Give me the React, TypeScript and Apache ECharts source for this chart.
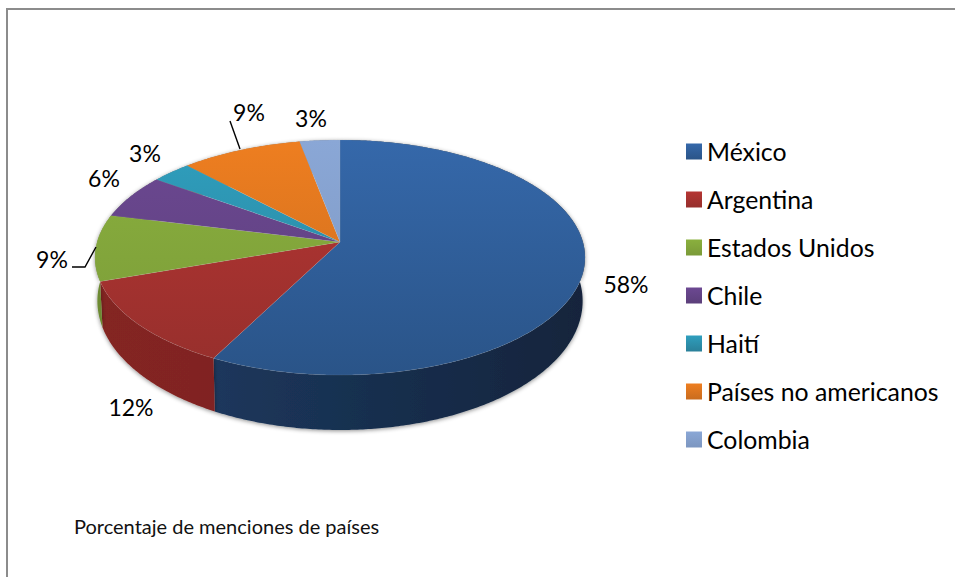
import React, { useEffect, useRef } from "react";
import * as echarts from "echarts";

const CATEGORIES = ["México", "Argentina", "Estados Unidos", "Chile", "Haití", "Países no americanos", "Colombia"];
const VALUES = [57.6, 12.1, 9.1, 6.1, 3.0, 9.1, 3.0];
const TOP_LIGHT = ["#3568aa", "#b53533", "#8ab03e", "#6c4892", "#2f9fbe", "#ee7e20", "#8aa7d6"];
const TOP_DARK = ["#2a5488", "#962f2c", "#7a9a38", "#5b3f7a", "#2a8099", "#c96c1e", "#7c96c0"];
const WALL_LEFT = ["#1f3d66", "#842523", "#6d8a32", "#4a3364", "#226a80", "#a85a18", "#667c9e"];
const WALL_RIGHT = ["#12243c", "#75201e", "#5f7a2c", "#4a3364", "#226a80", "#a85a18", "#667c9e"];
const LABEL_CENTERS: number[][] = [[626, 284], [131, 407], [52, 259], [104, 178], [145, 153], [249, 112], [311, 118]];
const LEADERS: (number[][] | null)[] = [
  null, null,
  [[72, 267], [85, 267], [96, 247]],
  null, null,
  [[230, 121], [240, 149]],
  null,
];
const CAPTION = "Porcentaje de menciones de países";

const FONT = "Lato, Carlito, 'Open Sans', sans-serif";
const TOTAL = VALUES.reduce((a, b) => a + b, 0);
const K = 0.132;

function project(angle: number, lower: boolean): number[] {
  const u = Math.sin(angle);
  const v = -Math.cos(angle);
  const w = 1 - K * v;
  const rx = lower ? 240.5 : 242.9;
  const ry = lower ? 126.7 : 115.5;
  const cy = lower ? 284 : 242;
  return [340 + (rx * u) / w, cy + (ry * v) / w];
}

function sweep(index: number): number[] {
  let before = 0;
  for (let i = 0; i < index; i++) before += VALUES[i];
  const a0 = (before / TOTAL) * Math.PI * 2;
  const a1 = ((before + VALUES[index]) / TOTAL) * Math.PI * 2;
  return [a0, a1];
}

function arc(a0: number, a1: number, lower: boolean): number[][] {
  const n = Math.max(2, Math.ceil((a1 - a0) / 0.01));
  const pts: number[][] = [];
  for (let i = 0; i <= n; i++) pts.push(project(a0 + ((a1 - a0) * i) / n, lower));
  return pts;
}

function vGrad(a: string, b: string) {
  return { type: "linear", x: 0, y: 0, x2: 0, y2: 1, colorStops: [{ offset: 0, color: a }, { offset: 1, color: b }] };
}

export default function App() {
  const ref = useRef<HTMLDivElement>(null);
  useEffect(() => {
    const chart = echarts.init(ref.current!, undefined, { renderer: "svg" });
    const wallSeries: any = {
      type: "custom",
      name: "walls",
      coordinateSystem: "none",
      silent: true,
      data: VALUES.map((v) => [v]),
      renderItem: (params: any) => {
        const i = params.dataIndex;
        const [a0, a1] = sweep(i);
        const upper = arc(a0, a1, false);
        const lowerArc = arc(a0, a1, true).reverse();
        return {
          type: "polygon",
          shape: { points: upper.concat(lowerArc) },
          style: {
            fill: {
              type: "linear", x: 96, y: 0, x2: 585, y2: 0, global: true,
              colorStops: [{ offset: 0, color: WALL_LEFT[i] }, { offset: 1, color: WALL_RIGHT[i] }],
            },
            shadowBlur: 4,
            shadowColor: "rgba(0,0,0,0.45)",
            shadowOffsetY: 1,
          },
        };
      },
    };
    const topSeries: any[] = CATEGORIES.map((name, idx) => ({
      type: "custom",
      name,
      coordinateSystem: "none",
      silent: true,
      itemStyle: { color: TOP_LIGHT[idx] },
      data: [[VALUES[idx]]],
      renderItem: () => {
        const [a0, a1] = sweep(idx);
        const center = [340, 242];
        const children: any[] = [
          {
            type: "polygon",
            shape: { points: [center].concat(arc(a0, a1, false)) },
            style: {
              fill: {
                type: "linear", x: 0, y: 140, x2: 0, y2: 375, global: true,
                colorStops: [{ offset: 0, color: TOP_LIGHT[idx] }, { offset: 1, color: TOP_DARK[idx] }],
              },
              stroke: "rgba(190,190,190,0.2)",
              lineWidth: 0.6,
            },
          },
          {
            type: "text",
            style: {
              x: LABEL_CENTERS[idx][0],
              y: LABEL_CENTERS[idx][1],
              text: Math.round((VALUES[idx] / TOTAL) * 100) + "%",
              fill: "#000",
              font: "23px " + FONT,
              align: "center",
              verticalAlign: "middle",
            },
          },
        ];
        const lead = LEADERS[idx];
        if (lead) {
          children.push({
            type: "polyline",
            shape: { points: lead },
            style: { fill: "none", stroke: "#000", lineWidth: 1.4 },
          });
        }
        return { type: "group", children };
      },
    }));
    chart.setOption({
      animation: false,
      backgroundColor: "#fff",
      title: {
        text: CAPTION,
        left: 74,
        top: 516,
        padding: 0,
        textStyle: { fontFamily: FONT, fontSize: 20, fontWeight: "normal", color: "#111" },
      },
      legend: {
        orient: "vertical",
        left: 686,
        top: 139,
        padding: 0,
        itemWidth: 16,
        itemHeight: 16,
        itemGap: 23,
        icon: "rect",
        selectedMode: false,
        textStyle: { fontFamily: FONT, fontSize: 24.8, lineHeight: 24, color: "#000" },
        data: CATEGORIES.map((name, i) => ({
          name,
          icon: "rect",
          itemStyle: { color: vGrad(TOP_LIGHT[i], TOP_DARK[i]) },
        })),
      },
      graphic: [
        {
          type: "polyline",
          silent: true,
          shape: { points: [[7, 577], [7, 9], [955, 9]] },
          style: { fill: "none", stroke: "#8c8c8c", lineWidth: 2 },
        },
      ],
      series: [wallSeries, ...topSeries],
    });
    return () => chart.dispose();
  }, []);
  return <div ref={ref} style={{ position: "absolute", left: 0, top: 0, width: 955, height: 577 }} />;
}
